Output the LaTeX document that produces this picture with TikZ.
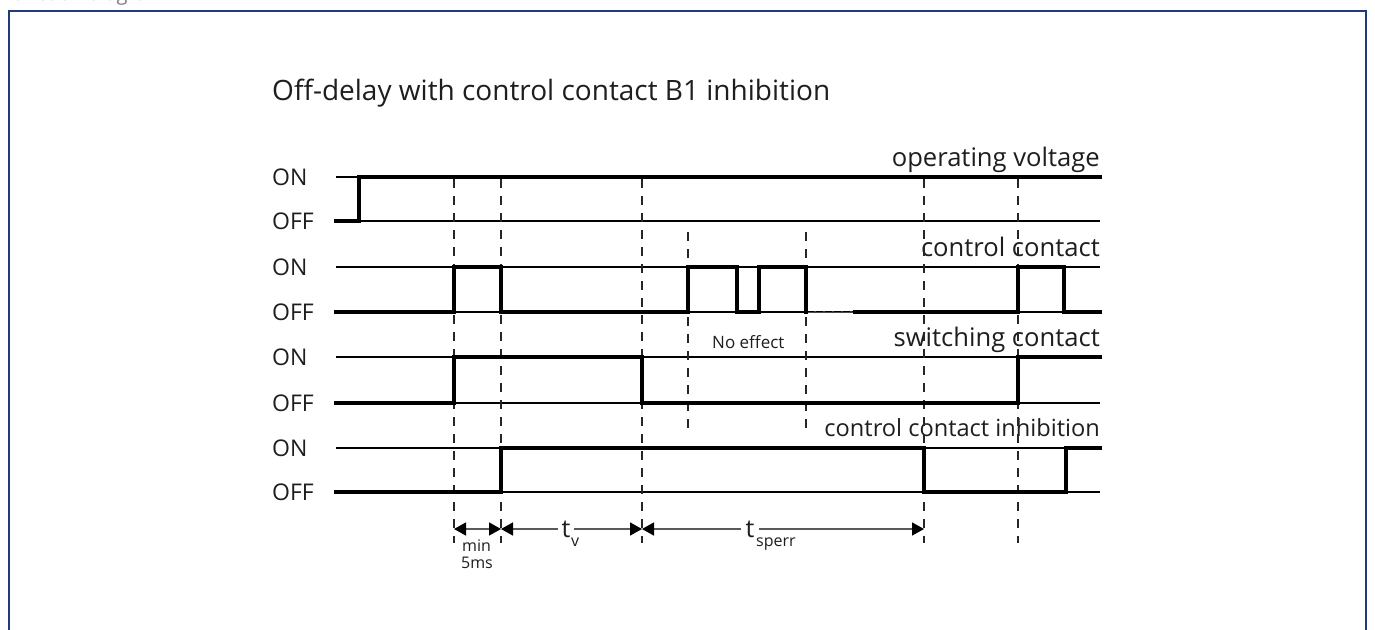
\documentclass[tikz,border=0pt]{standalone}
\usepackage{fontspec}
\setmainfont{Open Sans}
\usetikzlibrary{arrows.meta}
\definecolor{frameblue}{HTML}{1F3A7A}
\definecolor{txt}{HTML}{1E1E1E}
\definecolor{dimgrey}{HTML}{5A5A5A}
\begin{document}
\begin{tikzpicture}[x=1pt,y=-1pt,
  sig/.style={line width=3.6pt, line join=miter, line cap=rect, black},
  lvl/.style={line width=1.3pt, black},
  guide/.style={line width=1.8pt, black!85, dash pattern=on 9pt off 8pt},
  onoff/.style={font=\fontsize{23}{26}\selectfont, text=txt, inner sep=0, anchor=west},
  siglbl/.style={font=\fontsize{25.6}{30}\selectfont, text=txt, inner sep=0, anchor=base east},
  small/.style={font=\fontsize{16}{18}\selectfont, text=txt, inner sep=0, anchor=base west},
  dim/.style={line width=1.6pt, dimgrey, {Triangle[length=12pt,width=13pt,black]}-{Triangle[length=12pt,width=13pt,black]}}
]
\useasboundingbox (0,0) rectangle (1375,629);
\fill[white] (0,0) rectangle (1375,629);
% frame and cut-off heading
\node[anchor=base west, inner sep=0, text=gray, font=\fontsize{20}{24}\selectfont] (head) at (2,1) {Function diagram};
\draw[frameblue, line width=2.2pt] (9,11) rectangle (1366,680);
% title
\node[anchor=base west, inner sep=0, text=txt, font=\fontsize{28}{32}\selectfont] (title) at (272,100) {Off-delay with control contact B1 inhibition};
% level lines
\foreach \y in {177,221,267,312,357,403,448,492} \draw[lvl] (336,\y) -- (1100,\y);
% ON/OFF labels
\foreach \y/\n in {177/a,267/b,357/c,448/d} \node[onoff] (on\n) at (272,\y) {ON};
\foreach \y/\n in {221/a,312/b,403/c,492/d} \node[onoff] (off\n) at (272,\y) {OFF};
% signal labels
\node[siglbl] (l1) at (1100,166) {operating voltage};
\node[siglbl] (l2) at (1100,256) {control contact};
\node[siglbl] (l3) at (1100,346) {switching contact};
\node[siglbl, font=\fontsize{23.6}{28}\selectfont] (l4) at (1100,436) {control contact inhibition};
% guides
\foreach \x in {454,501,642,924,1018} \draw[guide] (\x,179) -- (\x,543);
\foreach \x in {688,806} \draw[guide] (\x,232) -- (\x,430);
% signals
\draw[sig] (336,221) -- (359,221) -- (359,177) -- (1100,177);
\draw[sig] (336,312) -- (454,312) -- (454,267) -- (501,267) -- (501,312) -- (688,312) -- (688,267) -- (737,267) -- (737,312) -- (759,312) -- (759,267) -- (806,267) -- (806,312);
\draw[line width=0.8pt, black!70] (808,312) -- (855,312);
\draw[line width=2.4pt, black!75, dash pattern=on 2pt off 7pt] (814,312) -- (855,312);
\draw[sig] (855,312) -- (1018,312) -- (1018,267) -- (1064,267) -- (1064,312) -- (1100,312);
\draw[sig] (336,403) -- (454,403) -- (454,357) -- (642,357) -- (642,403) -- (1018,403) -- (1018,357) -- (1100,357);
\draw[sig] (336,492) -- (501,492) -- (501,448) -- (924,448) -- (924,492) -- (1066,492) -- (1066,448) -- (1100,448);
% no effect
\node[small, font=\fontsize{17}{19}\selectfont] (noeff) at (712,348) {No effect};
% dimension arrows
\coordinate (ta) at (454,529);
\coordinate (tb) at (501,529);
\coordinate (tc) at (642,529);
\coordinate (tf) at (924,529);
\draw[dim] (ta) -- (tb);
\draw[dim] (tb) -- (tc);
\draw[dim] (tc) -- (tf);
\node[fill=white, inner xsep=4pt, inner ysep=1pt, text=txt, font=\fontsize{25}{28}\selectfont] (tv) at (566,529) {t};
\node[fill=white, inner xsep=5pt, inner ysep=1pt, text=txt, font=\fontsize{25}{28}\selectfont] (ts) at (750,529) {t};
\node[small] (tvs) at (571,546) {v};
\node[small] (tss) at (756,546) {sperr};
\node[small] (min) at (462,551) {min};
\node[small] (fms) at (461,568) {5ms};
\end{tikzpicture}
\end{document}
